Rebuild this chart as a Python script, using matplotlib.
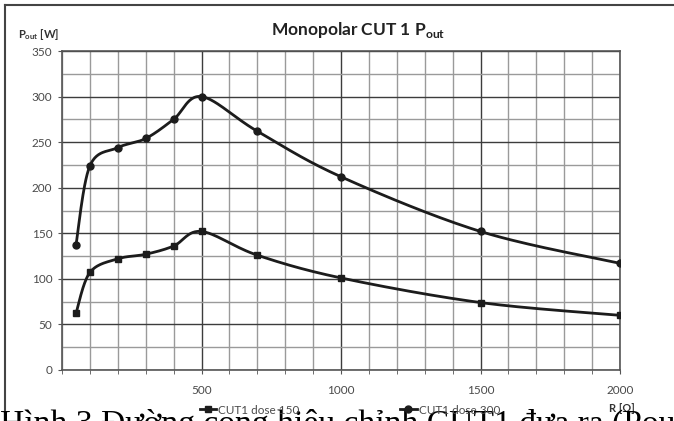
import numpy as np
import matplotlib
matplotlib.use('Agg')
import matplotlib.pyplot as plt
from matplotlib.lines import Line2D
from matplotlib.ticker import MultipleLocator

# data
r_ohm = [50, 100, 200, 300, 400, 500, 700, 1000, 1500, 2000]
p_dose150 = [62, 107, 122, 127, 136, 152, 126, 101, 74, 60]
p_dose300 = [137, 224, 244, 254, 275, 300, 262, 212, 152, 117]
series_labels = ['CUT1 dose 150', 'CUT1 dose 300']
caption = 'Hình 3 Đường cong hiệu chỉnh CUT1 đưa ra (Pout)'

plt.rcParams['font.family'] = ['Lato', 'DejaVu Sans']
plt.rcParams['mathtext.fontset'] = 'custom'
plt.rcParams['mathtext.rm'] = 'Lato'
plt.rcParams['mathtext.bf'] = 'Lato:bold'

W, H = 674, 421
fig = plt.figure(figsize=(W / 100, H / 100), dpi=100)
ax = fig.add_axes([62 / W, 1 - 370 / H, (620 - 62) / W, (370 - 51) / H])

XMAX, YMAX = 2000, 350
sx = (620 - 62) / XMAX
sy = (370 - 51) / YMAX


def smooth(x, y, n=30):
    # excel-like smoothed line (catmull-rom bezier), done in pixel space
    p = np.column_stack([np.asarray(x, float) * sx, np.asarray(y, float) * sy])
    p = np.vstack([p[0], p, p[-1]])
    out = []
    t = np.linspace(0, 1, n)[:, None]
    for i in range(1, len(p) - 2):
        p0, p1, p2, p3 = p[i - 1], p[i], p[i + 1], p[i + 2]
        c1 = p1 + (p2 - p0) / 6
        c2 = p2 - (p3 - p1) / 6
        seg = ((1 - t) ** 3) * p1 + 3 * ((1 - t) ** 2) * t * c1 + 3 * (1 - t) * t ** 2 * c2 + t ** 3 * p2
        out.append(seg)
    out = np.vstack(out)
    return out[:, 0] / sx, out[:, 1] / sy


line_col = '#1c1c1c'
for yv, mk, lab in [(p_dose150, 's', series_labels[0]), (p_dose300, 'o', series_labels[1])]:
    xs, ys = smooth(r_ohm, yv)
    ax.plot(xs, ys, color=line_col, lw=2.0, zorder=3)
    ax.plot(r_ohm, yv, ls='none', marker=mk, ms=5, color=line_col, zorder=4)

ax.set_xlim(0, XMAX)
ax.set_ylim(0, YMAX)
ax.xaxis.set_major_locator(MultipleLocator(500))
ax.xaxis.set_minor_locator(MultipleLocator(100))
ax.yaxis.set_major_locator(MultipleLocator(50))
ax.yaxis.set_minor_locator(MultipleLocator(25))
ax.set_xticks([500, 1000, 1500, 2000])
ax.grid(which='minor', color='#9a9a9a', lw=1.0)
ax.grid(which='major', color='#3c3c3c', lw=1.0)
ax.set_axisbelow(True)
ax.tick_params(which='both', labelsize=8.5, labelcolor='#4a4a4a', color='#555555')
ax.tick_params(axis='x', which='minor', length=3)
ax.tick_params(axis='x', which='major', length=3, pad=8)
ax.tick_params(axis='y', which='minor', length=0)
ax.tick_params(axis='y', which='major', length=3, pad=4)
for s in ax.spines.values():
    s.set_color('#555555')
    s.set_linewidth(1.2)

fig.text(358 / W, 1 - 30 / H, r'Monopolar CUT 1 P$_{\mathbf{out}}$', ha='center', va='center',
         fontsize=12.5, color='#222222', fontweight='bold')
fig.text(18 / W, 1 - 34 / H, r'P$_{\mathbf{out}}$ [W]', ha='left', va='center',
         fontsize=8, color='#333333', fontweight='bold')
fig.text(622 / W, 1 - 408 / H, 'R [Ω]', ha='center', va='center',
         fontsize=8, color='#333333', fontweight='bold')

handles = [Line2D([], [], color=line_col, lw=2, marker='s', ms=5),
           Line2D([], [], color=line_col, lw=2, marker='o', ms=5)]
fig.legend(handles, series_labels, loc='center', bbox_to_anchor=(350 / W, 1 - 410 / H),
           ncol=2, frameon=False, fontsize=8.5, handlelength=1.4, handletextpad=0.2,
           columnspacing=8.5, labelcolor='#4a4a4a')

# page frame
fig.add_artist(Line2D([5 / W, 5 / W], [0, 1 - 5 / H], transform=fig.transFigure, color='#444444', lw=1.5))
fig.add_artist(Line2D([5 / W, 1], [1 - 5 / H, 1 - 5 / H], transform=fig.transFigure, color='#444444', lw=1.5))

# document caption overlapping the bottom
fig.text(0, 1 - 433 / H, caption, ha='left', va='baseline', fontsize=24.2,
         family=['Liberation Serif', 'DejaVu Serif'], color='black')

fig.savefig('out.png', dpi=100)
